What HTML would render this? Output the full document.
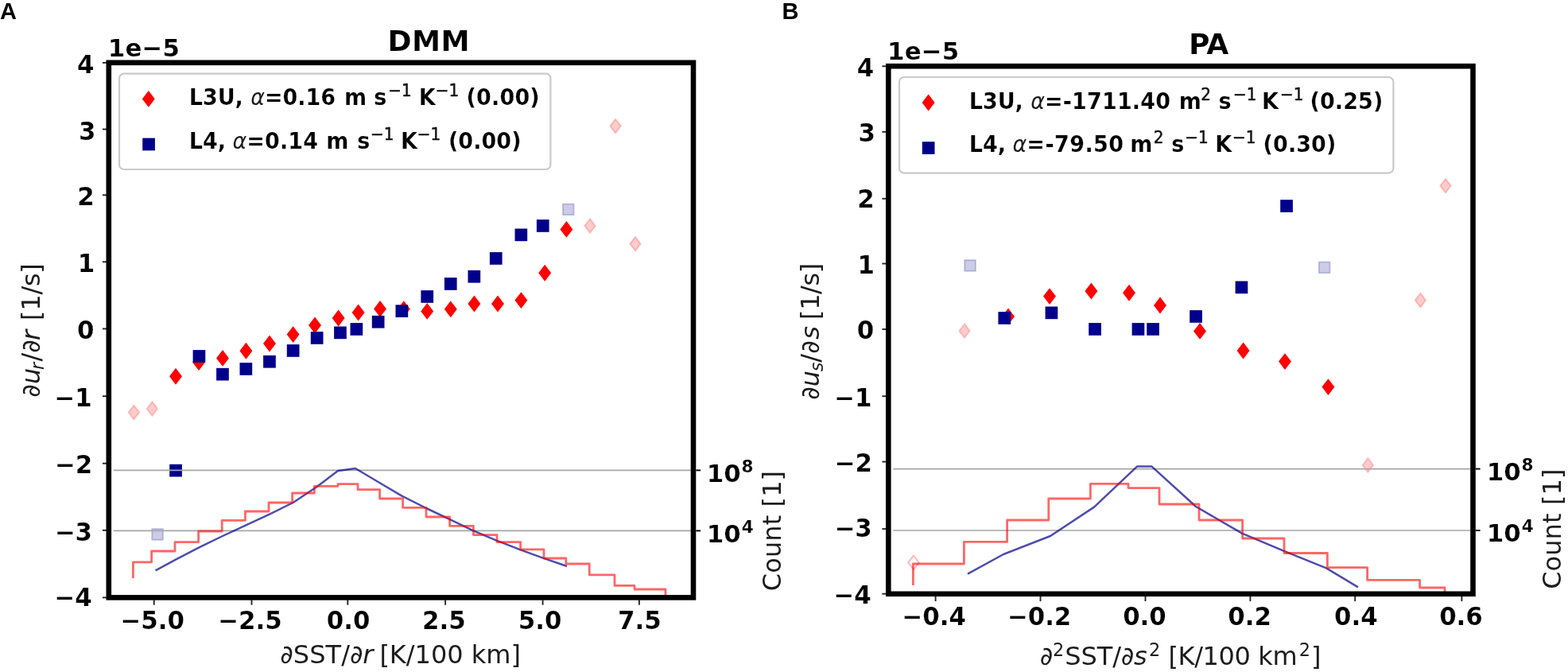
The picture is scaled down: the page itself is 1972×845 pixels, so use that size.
<!DOCTYPE html>
<html lang="en"><head><meta charset="utf-8"><title>DMM and PA coupling figure</title>
<style>
html,body{margin:0;padding:0;background:#fff;}
body{width:1972px;height:845px;overflow:hidden;}
svg{display:block;}
text{font-family:'DejaVu Sans','Liberation Sans',sans-serif;fill:#000;white-space:pre;}
.b{font-weight:bold;stroke:#fff;stroke-width:0.2px;}
.r{font-weight:normal;fill:#1c1c1c;}
.su{font-weight:normal;fill:#111;stroke:#111;stroke-width:0.45px;}
.i{font-weight:normal;font-style:italic;fill:#1c1c1c;}
.pl{font-family:'Liberation Sans',Arial,sans-serif;font-weight:bold;}
.d{fill:#ff0000;stroke:#ff0000;stroke-width:2;stroke-linejoin:miter;}
.fd{fill:rgba(255,0,0,0.2);stroke:rgba(255,0,0,0.2);stroke-width:2;stroke-linejoin:miter;}
.s{fill:#00008b;stroke:#00008b;stroke-width:2;stroke-linejoin:miter;}
.fs{fill:rgba(0,0,139,0.2);stroke:rgba(0,0,139,0.2);stroke-width:2;stroke-linejoin:miter;}
.lg{fill:rgba(255,255,255,0.8);stroke:#cacaca;stroke-width:2.2;}
.gr{stroke:#a6a6a6;stroke-width:1.6;}
.rl{fill:none;stroke:rgba(255,0,0,0.6);stroke-width:2.8;stroke-linejoin:round;}
.bl{fill:none;stroke:rgba(0,0,139,0.7);stroke-width:2.5;stroke-linejoin:round;}
.tk{stroke:#000;stroke-width:1.9;opacity:0.85;}
.od{fill:none;stroke:rgba(255,0,0,0.28);stroke-width:2;}
.tk2{stroke:#000;stroke-width:1.9;}
.sp{fill:none;stroke:#000;stroke-width:6.6;stroke-linejoin:miter;}
</style></head><body>
<svg width="1972" height="845" viewBox="0 0 1972 845">
<rect width="1972" height="845" fill="#fff"/>
<g id="panel-a">
<clipPath id="clip-a"><rect x="136.8" y="78.8" width="735.2" height="672.6"/></clipPath>
<g clip-path="url(#clip-a)">
<polygon points="168.4,509.8 175.1,518.6 168.4,527.4 161.7,518.6" class="fd"/>
<polygon points="191.4,505.2 198.1,514.0 191.4,522.8 184.7,514.0" class="fd"/>
<polygon points="221.0,464.4 227.7,473.2 221.0,482.0 214.3,473.2" class="d"/>
<polygon points="250.0,446.8 256.7,455.6 250.0,464.4 243.3,455.6" class="d"/>
<polygon points="280.0,441.6 286.7,450.4 280.0,459.2 273.3,450.4" class="d"/>
<polygon points="309.4,432.4 316.1,441.2 309.4,450.0 302.7,441.2" class="d"/>
<polygon points="339.0,423.2 345.7,432.0 339.0,440.8 332.3,432.0" class="d"/>
<polygon points="368.6,411.8 375.3,420.6 368.6,429.4 361.9,420.6" class="d"/>
<polygon points="396.0,400.2 402.7,409.0 396.0,417.8 389.3,409.0" class="d"/>
<polygon points="425.6,391.2 432.3,400.0 425.6,408.8 418.9,400.0" class="d"/>
<polygon points="450.6,384.2 457.3,393.0 450.6,401.8 443.9,393.0" class="d"/>
<polygon points="478.0,379.6 484.7,388.4 478.0,397.2 471.3,388.4" class="d"/>
<polygon points="507.8,379.8 514.5,388.6 507.8,397.4 501.1,388.6" class="d"/>
<polygon points="537.2,382.6 543.9,391.4 537.2,400.2 530.5,391.4" class="d"/>
<polygon points="566.8,380.0 573.5,388.8 566.8,397.6 560.1,388.8" class="d"/>
<polygon points="596.4,373.2 603.1,382.0 596.4,390.8 589.7,382.0" class="d"/>
<polygon points="626.0,373.2 632.7,382.0 626.0,390.8 619.3,382.0" class="d"/>
<polygon points="655.4,368.8 662.1,377.6 655.4,386.4 648.7,377.6" class="d"/>
<polygon points="685.2,334.4 691.9,343.2 685.2,352.0 678.5,343.2" class="d"/>
<polygon points="712.4,279.6 719.1,288.4 712.4,297.2 705.7,288.4" class="d"/>
<polygon points="742.0,275.2 748.7,284.0 742.0,292.8 735.3,284.0" class="fd"/>
<polygon points="774.0,149.8 780.7,158.6 774.0,167.4 767.3,158.6" class="fd"/>
<polygon points="799.0,297.8 805.7,306.6 799.0,315.4 792.3,306.6" class="fd"/>
<rect x="214.2" y="584.8" width="13.7" height="13.7" class="s"/>
<rect x="191.2" y="665.1" width="13.7" height="13.7" class="fs"/>
<rect x="243.6" y="441.1" width="13.7" height="13.7" class="s"/>
<rect x="273.1" y="463.8" width="13.7" height="13.7" class="s"/>
<rect x="302.5" y="457.1" width="13.7" height="13.7" class="s"/>
<rect x="332.1" y="447.9" width="13.7" height="13.7" class="s"/>
<rect x="361.8" y="434.1" width="13.7" height="13.7" class="s"/>
<rect x="391.8" y="418.1" width="13.7" height="13.7" class="s"/>
<rect x="421.1" y="411.5" width="13.7" height="13.7" class="s"/>
<rect x="441.5" y="407.1" width="13.7" height="13.7" class="s"/>
<rect x="468.8" y="397.9" width="13.7" height="13.7" class="s"/>
<rect x="498.5" y="384.3" width="13.7" height="13.7" class="s"/>
<rect x="530.4" y="366.1" width="13.7" height="13.7" class="s"/>
<rect x="559.9" y="350.1" width="13.7" height="13.7" class="s"/>
<rect x="589.5" y="340.9" width="13.7" height="13.7" class="s"/>
<rect x="616.9" y="318.1" width="13.7" height="13.7" class="s"/>
<rect x="648.5" y="288.5" width="13.7" height="13.7" class="s"/>
<rect x="675.9" y="277.1" width="13.7" height="13.7" class="s"/>
<rect x="707.9" y="256.5" width="13.7" height="13.7" class="fs"/>
</g>
<rect x="150" y="92.6" width="542.4" height="120.4" rx="6" ry="6" class="lg"/>
<polygon points="186.8,115.6 193.5,124.4 186.8,133.2 180.1,124.4" class="d"/>
<rect x="180.2" y="174.6" width="13.7" height="13.7" class="s"/>
<text transform="matrix(1,0,0,1.05,0,-6.62)"><tspan x="237.70" y="132.45" class="b" font-size="27.0">L3U, </tspan><tspan x="315.19" y="132.45" class="i" font-size="27.0">α</tspan><tspan x="332.96" y="132.45" class="b" font-size="27.0" letter-spacing="0.00">=0.16 </tspan><tspan x="432.97" y="132.45" class="b" font-size="27.0">m </tspan><tspan x="470.18" y="132.45" class="b" font-size="27.0">s</tspan><tspan x="488.30" y="121.78" class="su" font-size="20.0">−1 </tspan><tspan x="526.70" y="132.45" class="b" font-size="27.0">K</tspan><tspan x="547.80" y="121.78" class="su" font-size="20.0">−1 </tspan><tspan x="586.50" y="132.45" class="b" font-size="27.0" letter-spacing="0.19">(0.00)</tspan></text>
<text transform="matrix(1,0,0,1.05,0,-9.36)"><tspan x="237.70" y="187.25" class="b" font-size="27.0">L4, </tspan><tspan x="292.59" y="187.25" class="i" font-size="27.0">α</tspan><tspan x="310.37" y="187.25" class="b" font-size="27.0" letter-spacing="0.10">=0.14 </tspan><tspan x="410.37" y="187.25" class="b" font-size="27.0">m </tspan><tspan x="449.18" y="187.25" class="b" font-size="27.0">s</tspan><tspan x="465.90" y="176.58" class="su" font-size="20.0">−1 </tspan><tspan x="504.10" y="187.25" class="b" font-size="27.0">K</tspan><tspan x="524.70" y="176.58" class="su" font-size="20.0">−1 </tspan><tspan x="563.91" y="187.25" class="b" font-size="27.0" letter-spacing="0.07">(0.00)</tspan></text>
<g clip-path="url(#clip-a)">
<line x1="142.8" x2="869.0" y1="591.4" y2="591.4" class="gr"/>
<line x1="142.8" x2="869.0" y1="667.4" y2="667.4" class="gr"/>
<path d="M195.6,717.4 L221.0,703.6 L250.4,688.4 L280.0,674.0 L309.4,660.4 L339.0,646.6 L368.6,632.0 L398.6,612.0 L425.0,592.0 L447.0,589.0 L475.6,606.0 L505.4,623.6 L536.0,639.0 L566.8,653.6 L595.4,667.4 L623.8,679.4 L654.6,691.4 L682.8,701.6 L713.0,712.0" class="bl"/>
<path d="M167.4,727.0 V706.8 H190.6 V693.0 H220.0 V681.6 H249.6 V668.0 H279.2 V654.4 H308.4 V643.0 H338.0 V632.0 H367.6 V620.0 H395.4 V611.4 H425.0 V608.6 H450.0 V615.6 H477.6 V627.0 H506.6 V638.4 H536.0 V650.0 H565.6 V661.4 H595.4 V672.6 H625.0 V681.6 H654.6 V690.8 H684.0 V702.0 H711.8 V709.0 H741.2 V722.8 H773.0 V736.4 H798.0 V741.0 H837.0 V752.0" class="rl"/>
</g>
<line x1="128.9" x2="134.0" y1="78.9" y2="78.9" class="tk"/>
<text transform="matrix(1,0,0,1.01,0,-0.92)"><tspan x="97.01" y="91.60" class="b" font-size="30.9">4</tspan></text>
<line x1="128.9" x2="134.0" y1="162.5" y2="162.5" class="tk"/>
<text transform="matrix(1,0,0,1.01,0,-1.76)"><tspan x="99.10" y="175.60" class="b" font-size="30.9">3</tspan></text>
<line x1="128.9" x2="134.0" y1="245.3" y2="245.3" class="tk"/>
<text transform="matrix(1,0,0,1.01,0,-2.58)"><tspan x="97.25" y="257.90" class="b" font-size="30.9">2</tspan></text>
<line x1="128.9" x2="134.0" y1="329.3" y2="329.3" class="tk"/>
<text transform="matrix(1,0,0,1.01,0,-3.42)"><tspan x="97.71" y="342.20" class="b" font-size="30.9">1</tspan></text>
<line x1="128.9" x2="134.0" y1="413.4" y2="413.4" class="tk"/>
<text transform="matrix(1,0,0,1.01,0,-4.26)"><tspan x="97.09" y="425.80" class="b" font-size="30.9">0</tspan></text>
<line x1="128.9" x2="134.0" y1="498.2" y2="498.2" class="tk"/>
<text transform="matrix(1,0,0,1.01,0,-5.11)"><tspan x="68.33" y="510.80" class="b" font-size="30.9">−1</tspan></text>
<line x1="128.9" x2="134.0" y1="582.7" y2="582.7" class="tk"/>
<text transform="matrix(1,0,0,1.01,0,-5.95)"><tspan x="68.87" y="595.10" class="b" font-size="30.9">−2</tspan></text>
<line x1="128.9" x2="134.0" y1="666.8" y2="666.8" class="tk"/>
<text transform="matrix(1,0,0,1.01,0,-6.80)"><tspan x="68.72" y="680.10" class="b" font-size="30.9">−3</tspan></text>
<line x1="128.9" x2="134.0" y1="751.4" y2="751.4" class="tk"/>
<text transform="matrix(1,0,0,1.01,0,-7.62)"><tspan x="68.34" y="761.80" class="b" font-size="30.9">−4</tspan></text>
<line x1="193.7" x2="193.7" y1="754.2" y2="760.7" class="tk"/>
<text transform="matrix(1,0,0,1.01,0,-7.91)"><tspan x="151.36" y="790.60" class="b" font-size="30.9">−5.0</tspan></text>
<line x1="316.5" x2="316.5" y1="754.2" y2="760.7" class="tk"/>
<text transform="matrix(1,0,0,1.01,0,-7.91)"><tspan x="274.06" y="790.60" class="b" font-size="30.9">−2.5</tspan></text>
<line x1="437.3" x2="437.3" y1="754.2" y2="760.7" class="tk"/>
<text transform="matrix(1,0,0,1.01,0,-7.91)"><tspan x="410.83" y="790.60" class="b" font-size="30.9">0.0</tspan></text>
<line x1="560.1" x2="560.1" y1="754.2" y2="760.7" class="tk"/>
<text transform="matrix(1,0,0,1.01,0,-7.91)"><tspan x="531.13" y="790.60" class="b" font-size="30.9">2.5</tspan></text>
<line x1="682.6" x2="682.6" y1="754.2" y2="760.7" class="tk"/>
<text transform="matrix(1,0,0,1.01,0,-7.91)"><tspan x="651.71" y="790.60" class="b" font-size="30.9">5.0</tspan></text>
<line x1="803.9" x2="803.9" y1="754.2" y2="760.7" class="tk"/>
<text transform="matrix(1,0,0,1.01,0,-7.91)"><tspan x="776.91" y="790.60" class="b" font-size="30.9">7.5</tspan></text>
<line x1="875.3" x2="881.1" y1="591.4" y2="591.4" class="tk2"/>
<text><tspan x="888.72" y="606.00" class="b" font-size="30.9">10</tspan><tspan x="932.50" y="594.00" class="b" font-size="21.6">8</tspan></text>
<line x1="875.3" x2="881.1" y1="667.4" y2="667.4" class="tk2"/>
<text><tspan x="888.72" y="682.00" class="b" font-size="30.9">10</tspan><tspan x="932.83" y="670.00" class="b" font-size="21.6">4</tspan></text>
<rect x="136.8" y="78.8" width="735.2" height="672.6" class="sp"/>
<text><tspan x="135.82" y="70.60" class="b" font-size="30.9" letter-spacing="0.13">1e−5</tspan></text>
<text><tspan x="487.44" y="63.80" class="b" font-size="36.3" letter-spacing="0.37">DMM</tspan></text>
<text><tspan x="352.28" y="834.20" class="r" font-size="32.0" letter-spacing="0.05">∂SST/∂</tspan><tspan x="456.28" y="834.20" class="i" font-size="32.0">r </tspan><tspan x="477.38" y="834.20" class="r" font-size="32.0" letter-spacing="-0.02">[K/100 km]</tspan></text>
<text transform="translate(49.8,415.95) rotate(-90)"><tspan x="-83.72" y="0.00" class="r" font-size="32.0">∂</tspan><tspan x="-67.04" y="0.00" class="i" font-size="32.0">u</tspan><tspan x="-48.98" y="5.20" class="i" font-size="22.4">r</tspan><tspan x="-38.60" y="0.00" class="r" font-size="32.0">/∂</tspan><tspan x="-12.02" y="0.00" class="i" font-size="32.0">r </tspan><tspan x="12.98" y="0.00" class="r" font-size="32.0" letter-spacing="-0.24">[1/s]</tspan></text>
<text transform="translate(982.3,668) rotate(-90)"><tspan x="-75.16" y="0.00" class="r" font-size="32.0" letter-spacing="0.09">Count [1]</tspan></text>
<text><tspan x="0.07" y="24.30" class="pl" font-size="29.0">A</tspan></text>
</g>
<g id="panel-b">
<clipPath id="clip-b"><rect x="1117.3" y="83.2" width="735.2" height="663.6"/></clipPath>
<g clip-path="url(#clip-b)">
<polygon points="1149.0,698.6 1155.7,707.4 1149.0,716.2 1142.3,707.4" class="od"/>
<polygon points="1213.0,407.2 1219.7,416.0 1213.0,424.8 1206.3,416.0" class="fd"/>
<polygon points="1268.0,389.2 1274.7,398.0 1268.0,406.8 1261.3,398.0" class="d"/>
<polygon points="1320.0,363.8 1326.7,372.6 1320.0,381.4 1313.3,372.6" class="d"/>
<polygon points="1372.4,357.2 1379.1,366.0 1372.4,374.8 1365.7,366.0" class="d"/>
<polygon points="1420.0,359.4 1426.7,368.2 1420.0,377.0 1413.3,368.2" class="d"/>
<polygon points="1459.0,375.2 1465.7,384.0 1459.0,392.8 1452.3,384.0" class="d"/>
<polygon points="1509.0,407.6 1515.7,416.4 1509.0,425.2 1502.3,416.4" class="d"/>
<polygon points="1563.6,432.2 1570.3,441.0 1563.6,449.8 1556.9,441.0" class="d"/>
<polygon points="1616.0,445.8 1622.7,454.6 1616.0,463.4 1609.3,454.6" class="d"/>
<polygon points="1670.4,477.8 1677.1,486.6 1670.4,495.4 1663.7,486.6" class="d"/>
<polygon points="1720.4,576.2 1727.1,585.0 1720.4,593.8 1713.7,585.0" class="fd"/>
<polygon points="1786.4,368.8 1793.1,377.6 1786.4,386.4 1779.7,377.6" class="fd"/>
<polygon points="1818.0,224.8 1824.7,233.6 1818.0,242.4 1811.3,233.6" class="fd"/>
<rect x="1213.2" y="327.1" width="13.7" height="13.7" class="fs"/>
<rect x="1256.4" y="393.1" width="13.7" height="13.7" class="s"/>
<rect x="1315.6" y="386.5" width="13.7" height="13.7" class="s"/>
<rect x="1370.2" y="407.1" width="13.7" height="13.7" class="s"/>
<rect x="1424.6" y="407.1" width="13.7" height="13.7" class="s"/>
<rect x="1443.2" y="407.1" width="13.7" height="13.7" class="s"/>
<rect x="1497.2" y="391.1" width="13.7" height="13.7" class="s"/>
<rect x="1554.6" y="354.5" width="13.7" height="13.7" class="s"/>
<rect x="1611.2" y="252.2" width="13.7" height="13.7" class="s"/>
<rect x="1658.8" y="329.5" width="13.7" height="13.7" class="fs"/>
</g>
<rect x="1131" y="97" width="621.4" height="120.6" rx="6" ry="6" class="lg"/>
<polygon points="1167.6,120.2 1174.3,129.0 1167.6,137.8 1160.9,129.0" class="d"/>
<rect x="1160.8" y="179.2" width="13.7" height="13.7" class="s"/>
<text transform="matrix(1,0,0,1.05,0,-6.84)"><tspan x="1218.70" y="136.85" class="b" font-size="27.0">L3U, </tspan><tspan x="1296.19" y="136.85" class="i" font-size="27.0">α</tspan><tspan x="1313.97" y="136.85" class="b" font-size="27.0" letter-spacing="0.16">=-1711.40 </tspan><tspan x="1482.67" y="136.85" class="b" font-size="27.0">m</tspan><tspan x="1510.35" y="126.18" class="su" font-size="20.0">2 </tspan><tspan x="1532.38" y="136.85" class="b" font-size="27.0">s</tspan><tspan x="1551.10" y="126.18" class="su" font-size="20.0">−1 </tspan><tspan x="1587.10" y="136.85" class="b" font-size="27.0">K</tspan><tspan x="1610.10" y="126.18" class="su" font-size="20.0">−1 </tspan><tspan x="1647.51" y="136.85" class="b" font-size="27.0" letter-spacing="0.11">(0.25)</tspan></text>
<text transform="matrix(1,0,0,1.05,0,-9.57)"><tspan x="1218.70" y="191.45" class="b" font-size="27.0">L4, </tspan><tspan x="1273.59" y="191.45" class="i" font-size="27.0">α</tspan><tspan x="1291.37" y="191.45" class="b" font-size="27.0" letter-spacing="0.42">=-79.50 </tspan><tspan x="1421.17" y="191.45" class="b" font-size="27.0">m</tspan><tspan x="1450.75" y="180.78" class="su" font-size="20.0">2 </tspan><tspan x="1473.38" y="191.45" class="b" font-size="27.0">s</tspan><tspan x="1490.30" y="180.78" class="su" font-size="20.0">−1 </tspan><tspan x="1528.20" y="191.45" class="b" font-size="27.0">K</tspan><tspan x="1549.90" y="180.78" class="su" font-size="20.0">−1 </tspan><tspan x="1588.61" y="191.45" class="b" font-size="27.0" letter-spacing="0.09">(0.30)</tspan></text>
<g clip-path="url(#clip-b)">
<line x1="1123.3" x2="1849.5" y1="589.6" y2="589.6" class="gr"/>
<line x1="1123.3" x2="1849.5" y1="667.0" y2="667.0" class="gr"/>
<path d="M1217.0,721.6 L1262.0,697.0 L1321.0,674.0 L1376.0,637.6 L1430.0,586.6 L1448.6,586.6 L1504.0,637.0 L1562.0,670.6 L1616.0,693.4 L1668.0,714.4 L1708.0,738.4" class="bl"/>
<path d="M1148.4,736.0 V709.0 H1212.4 V681.4 H1266.6 V654.0 H1318.8 V627.0 H1371.4 V608.4 H1419.0 V613.6 H1458.0 V634.0 H1508.0 V654.0 H1562.6 V677.0 H1615.0 V695.5 H1669.4 V713.6 H1719.6 V729.4 H1785.6 V739.0 H1817.0 V748.0" class="rl"/>
</g>
<line x1="1109.4" x2="1114.5" y1="83.3" y2="83.3" class="tk"/>
<text transform="matrix(1,0,0,1.01,0,-0.96)"><tspan x="1077.71" y="96.20" class="b" font-size="30.9">4</tspan></text>
<line x1="1109.4" x2="1114.5" y1="165.8" y2="165.8" class="tk"/>
<text transform="matrix(1,0,0,1.01,0,-1.78)"><tspan x="1079.50" y="177.80" class="b" font-size="30.9">3</tspan></text>
<line x1="1109.4" x2="1114.5" y1="249.8" y2="249.8" class="tk"/>
<text transform="matrix(1,0,0,1.01,0,-2.61)"><tspan x="1078.25" y="260.80" class="b" font-size="30.9">2</tspan></text>
<line x1="1109.4" x2="1114.5" y1="331.5" y2="331.5" class="tk"/>
<text transform="matrix(1,0,0,1.01,0,-3.44)"><tspan x="1078.41" y="344.30" class="b" font-size="30.9">1</tspan></text>
<line x1="1109.4" x2="1114.5" y1="414.0" y2="414.0" class="tk"/>
<text transform="matrix(1,0,0,1.01,0,-4.26)"><tspan x="1077.79" y="425.80" class="b" font-size="30.9">0</tspan></text>
<line x1="1109.4" x2="1114.5" y1="498.2" y2="498.2" class="tk"/>
<text transform="matrix(1,0,0,1.01,0,-5.11)"><tspan x="1049.03" y="510.80" class="b" font-size="30.9">−1</tspan></text>
<line x1="1109.4" x2="1114.5" y1="580.6" y2="580.6" class="tk"/>
<text transform="matrix(1,0,0,1.01,0,-5.93)"><tspan x="1049.57" y="593.40" class="b" font-size="30.9">−2</tspan></text>
<line x1="1109.4" x2="1114.5" y1="665.1" y2="665.1" class="tk"/>
<text transform="matrix(1,0,0,1.01,0,-6.75)"><tspan x="1049.42" y="674.90" class="b" font-size="30.9">−3</tspan></text>
<line x1="1109.4" x2="1114.5" y1="746.7" y2="746.7" class="tk"/>
<text transform="matrix(1,0,0,1.01,0,-7.59)"><tspan x="1048.34" y="759.20" class="b" font-size="30.9">−4</tspan></text>
<line x1="1176.6" x2="1176.6" y1="749.6" y2="756.1" class="tk"/>
<text transform="matrix(1,0,0,1.01,0,-7.86)"><tspan x="1134.36" y="786.20" class="b" font-size="30.9">−0.4</tspan></text>
<line x1="1308.5" x2="1308.5" y1="749.6" y2="756.1" class="tk"/>
<text transform="matrix(1,0,0,1.01,0,-7.86)"><tspan x="1266.76" y="786.20" class="b" font-size="30.9">−0.2</tspan></text>
<line x1="1440.5" x2="1440.5" y1="749.6" y2="756.1" class="tk"/>
<text transform="matrix(1,0,0,1.01,0,-7.86)"><tspan x="1412.13" y="786.20" class="b" font-size="30.9">0.0</tspan></text>
<line x1="1572.4" x2="1572.4" y1="749.6" y2="756.1" class="tk"/>
<text transform="matrix(1,0,0,1.01,0,-7.86)"><tspan x="1544.33" y="786.20" class="b" font-size="30.9">0.2</tspan></text>
<line x1="1704.2" x2="1704.2" y1="749.6" y2="756.1" class="tk"/>
<text transform="matrix(1,0,0,1.01,0,-7.86)"><tspan x="1677.93" y="786.20" class="b" font-size="30.9">0.4</tspan></text>
<line x1="1838.4" x2="1838.4" y1="749.6" y2="756.1" class="tk"/>
<text transform="matrix(1,0,0,1.01,0,-7.86)"><tspan x="1810.13" y="786.20" class="b" font-size="30.9">0.6</tspan></text>
<line x1="1855.8" x2="1861.6" y1="589.6" y2="589.6" class="tk2"/>
<text><tspan x="1869.72" y="603.80" class="b" font-size="30.9">10</tspan><tspan x="1913.50" y="591.80" class="b" font-size="21.6">8</tspan></text>
<line x1="1855.8" x2="1861.6" y1="667.0" y2="667.0" class="tk2"/>
<text><tspan x="1869.72" y="681.20" class="b" font-size="30.9">10</tspan><tspan x="1913.83" y="669.20" class="b" font-size="21.6">4</tspan></text>
<rect x="1117.3" y="83.2" width="735.2" height="663.6" class="sp"/>
<text><tspan x="1116.12" y="75.10" class="b" font-size="30.9" letter-spacing="0.13">1e−5</tspan></text>
<text><tspan x="1495.04" y="68.40" class="b" font-size="36.3" letter-spacing="-0.93">PA</tspan></text>
<text><tspan x="1307.78" y="836.20" class="r" font-size="32.0">∂</tspan><tspan x="1324.08" y="825.20" class="r" font-size="22.4">2</tspan><tspan x="1339.22" y="836.20" class="r" font-size="32.0" letter-spacing="-0.08">SST/∂</tspan><tspan x="1426.10" y="836.20" class="i" font-size="32.0">s</tspan><tspan x="1445.08" y="825.20" class="r" font-size="22.4">2 </tspan><tspan x="1469.48" y="836.20" class="r" font-size="32.0" letter-spacing="-0.39">[K/100 km</tspan><tspan x="1633.68" y="825.20" class="r" font-size="22.4">2</tspan><tspan x="1649.08" y="836.20" class="r" font-size="32.0">]</tspan></text>
<text transform="translate(1029.8,417.55) rotate(-90)"><tspan x="-85.32" y="0.00" class="r" font-size="32.0">∂</tspan><tspan x="-68.64" y="0.00" class="i" font-size="32.0">u</tspan><tspan x="-49.58" y="5.20" class="i" font-size="22.4">s</tspan><tspan x="-38.10" y="0.00" class="r" font-size="32.0">/∂</tspan><tspan x="-9.30" y="0.00" class="i" font-size="32.0">s </tspan><tspan x="15.68" y="0.00" class="r" font-size="32.0" letter-spacing="-0.44">[1/s]</tspan></text>
<text transform="translate(1962.8,665.7) rotate(-90)"><tspan x="-75.16" y="0.00" class="r" font-size="32.0" letter-spacing="0.09">Count [1]</tspan></text>
<text><tspan x="983.44" y="24.30" class="pl" font-size="29.0">B</tspan></text>
</g>
</svg></body></html>
